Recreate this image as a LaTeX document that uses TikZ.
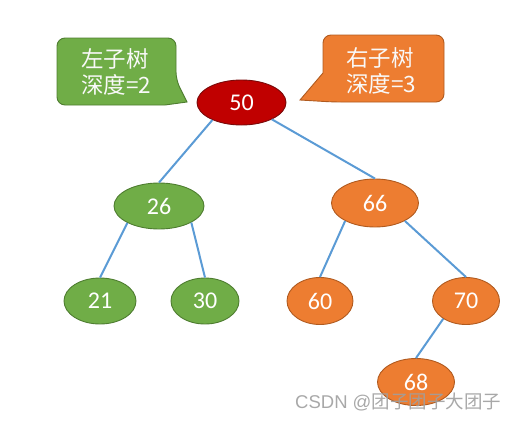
\documentclass[tikz,border=0pt]{standalone}
\usepackage{fontspec}
\setmainfont{Carlito}
\newfontfamily\cjkfont{Noto Sans CJK SC}
\newfontfamily\wmfont{Liberation Sans}
\usetikzlibrary{shapes.geometric}
\definecolor{gfill}{HTML}{70AD47}
\definecolor{gline}{HTML}{4E7D30}
\definecolor{ofill}{HTML}{ED7D31}
\definecolor{oline}{HTML}{B05A1F}
\definecolor{rfill}{HTML}{C00000}
\definecolor{rline}{HTML}{7A0A0A}
\definecolor{edgec}{HTML}{5B9BD5}
\tikzset{
  tnode/.style={ellipse, inner sep=0pt, line width=0.9pt, text=white, font=\fontsize{24}{24}\selectfont},
  gnode/.style={tnode, fill=gfill, draw=gline},
  onode/.style={tnode, fill=ofill, draw=oline},
  rnode/.style={tnode, fill=rfill, draw=rline},
  edge/.style={draw=edgec, line width=2pt},
  callout/.style={line width=0.9pt, rounded corners=8pt},
  ctext/.style={text=white!95!gray, font=\cjkfont\fontsize{22.5}{26}\selectfont, align=left, anchor=west, inner sep=0pt}
}
\begin{document}
\begin{tikzpicture}[x=1pt,y=-1pt]
\useasboundingbox (0,0) rectangle (520,421);
% callouts
\filldraw[callout, fill=gfill, draw=gline] (57,38) -- (176,38) -- (176,80) [sharp corners] -- (187,102) -- (165,105) [rounded corners=8pt] -- (57,105) -- cycle;
\node[ctext] (lc) at (81,72) {左子树\\深度=2};
\filldraw[callout, fill=ofill, draw=oline] (323,35) -- (444,35) -- (444,102) -- (333,102) [sharp corners] -- (300,100) -- (323,73) [rounded corners=8pt] -- cycle;
\node[ctext] (rc) at (346,71) {右子树\\深度=3};
% nodes
\node[rnode, minimum width=89pt, minimum height=45pt] (n50) at (241.5,102.5) {50};
\node[gnode, minimum width=90pt, minimum height=46pt] (n26) at (159,206) {26};
\node[onode, minimum width=87pt, minimum height=48pt] (n66) at (375,203) {66};
\node[gnode, minimum width=72pt, minimum height=46pt] (n21) at (100,301) {21};
\node[gnode, minimum width=68pt, minimum height=46pt] (n30) at (205,301) {30};
\node[onode, minimum width=66pt, minimum height=47pt] (n60) at (320,301) {60};
\node[onode, minimum width=67pt, minimum height=47pt] (n70) at (466,301) {70};
\node[onode, minimum width=77pt, minimum height=47pt] (n68) at (416,382) {68};
% edges
\draw[edge] (n50.211) -- (n26.north);
\draw[edge] (n50.331) -- (n66.north);
\draw[edge] (n26.208) -- (n21.north);
\draw[edge] (n26.333) -- (n30.north);
\draw[edge] (n66.211) -- (n60.north);
\draw[edge] (n66.329) -- (n70.north);
\draw[edge] (n70.218) -- (n68.north);
% watermark
\node[text=gray!75, opacity=0.9, inner sep=0pt, anchor=west, font=\wmfont\fontsize{18.5}{18.5}\selectfont] (wm) at (295,402) {CSDN @{\cjkfont 团子团子大团子}};
\end{tikzpicture}
\end{document}
